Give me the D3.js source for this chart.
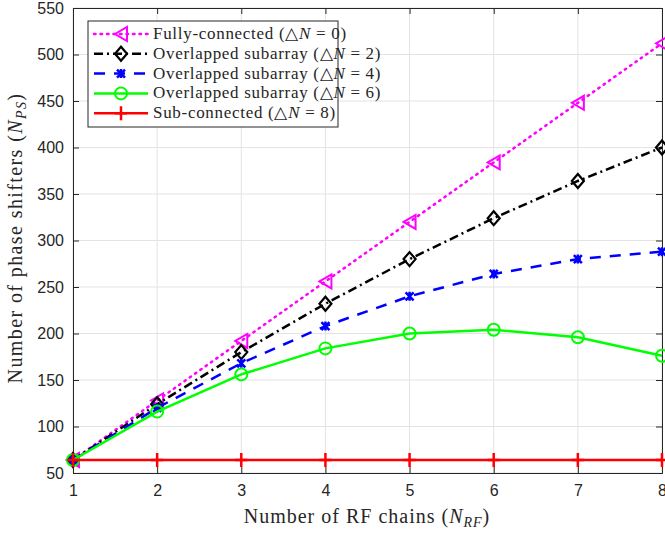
<!DOCTYPE html>
<html><head><meta charset="utf-8">
<script src="https://cdn.jsdelivr.net/npm/d3@7"></script>
<style>body{margin:0;background:#fff}svg{display:block}</style>
</head><body>
<svg id="c" width="665" height="533"></svg>
<script>
const xValues = [1,2,3,4,5,6,7,8];
const fullyConnected = [64,128,192,256,320,384,448,512];
const overlap2 = [64,124,180,232,280,324,364,400];
const overlap4 = [64,120,168,208,240,264,280,288];
const overlap6 = [64,116,156,184,200,204,196,176];
const subConnected = [64,64,64,64,64,64,64,64];
const yTicks = [50,100,150,200,250,300,350,400,450,500,550];
const seriesNames = ["Fully-connected", "Overlapped subarray", "Overlapped subarray", "Overlapped subarray", "Sub-connected"];
const deltaN = [0,2,4,6,8];

const svg = d3.select("#c");
const L=73, R=662, T=8, B=473;
const x = d3.scaleLinear().domain([1,8]).range([L,R]);
const y = d3.scaleLinear().domain([50,550]).range([B,T]);

// grid
const g = svg.append("g");
g.selectAll(".gx").data(xValues).enter().append("line")
 .attr("x1",d=>x(d)).attr("x2",d=>x(d)).attr("y1",T).attr("y2",B)
 .attr("stroke","#e3e3e3").attr("stroke-width",1);
g.selectAll(".gy").data(yTicks).enter().append("line")
 .attr("y1",d=>y(d)).attr("y2",d=>y(d)).attr("x1",L).attr("x2",R)
 .attr("stroke","#e3e3e3").attr("stroke-width",1);

// axes
const ax = svg.append("g").attr("transform",`translate(0,${B})`)
 .call(d3.axisBottom(x).tickValues(xValues).tickSize(-6).tickPadding(12).tickFormat(d3.format("d")));
const ay = svg.append("g").attr("transform",`translate(${L},0)`)
 .call(d3.axisLeft(y).tickValues(yTicks).tickSize(-6).tickPadding(9));
const axT = svg.append("g").attr("transform",`translate(0,${T})`)
 .call(d3.axisTop(x).tickValues(xValues).tickSize(-6).tickFormat(""));
const ayR = svg.append("g").attr("transform",`translate(${R},0)`)
 .call(d3.axisRight(y).tickValues(yTicks).tickSize(-6).tickFormat(""));
[ax,ay,axT,ayR].forEach(a=>{
  a.selectAll("path").attr("stroke","#262626").attr("stroke-width",1);
  a.selectAll("line").attr("stroke","#262626").attr("stroke-width",1);
  a.selectAll("text").attr("fill","#262626").style("font-family","'Liberation Sans', Arial, sans-serif").style("font-size","16px");
});

const series = [
 {data: fullyConnected, color:"#ff00ff", dash:"1.5,5", marker:"tri", cap:"round"},
 {data: overlap2, color:"#000000", dash:"9,4,2,4", marker:"dia"},
 {data: overlap4, color:"#0000ff", dash:"11,9", marker:"x"},
 {data: overlap6, color:"#00ff00", dash:null, marker:"circ"},
 {data: subConnected, color:"#ff0000", dash:null, marker:"plus"}
];

function drawMarker(sel, type, color){
  if(type==="tri"){
    sel.append("path").attr("d","M-6,0 L6,-7 L6,7 Z").attr("fill","none").attr("stroke",color).attr("stroke-width",2);
  } else if(type==="dia"){
    sel.append("path").attr("d","M0,-7 L6,0 L0,7 L-6,0 Z").attr("fill","none").attr("stroke",color).attr("stroke-width",2.2);
  } else if(type==="x"){
    sel.append("path").attr("d","M-4,-4 L4,4 M-4,4 L4,-4 M0,-4.5 L0,4.5").attr("fill","none").attr("stroke",color).attr("stroke-width",2.5);
  } else if(type==="circ"){
    sel.append("circle").attr("r",6).attr("fill","none").attr("stroke",color).attr("stroke-width",2);
  } else if(type==="plus"){
    sel.append("path").attr("d","M-6,0 L6,0 M0,-7 L0,7").attr("fill","none").attr("stroke",color).attr("stroke-width",2.5);
  }
}

const line = d3.line().x((d,i)=>x(xValues[i])).y(d=>y(d));
series.forEach(s=>{
  svg.append("path").datum(s.data).attr("d",line).attr("fill","none")
   .attr("stroke",s.color).attr("stroke-width",2.5)
   .attr("stroke-dasharray",s.dash).attr("stroke-linecap", s.cap||"butt");
  s.data.forEach((v,i)=>{
    const m = svg.append("g").attr("transform",`translate(${x(xValues[i])},${y(v)})`);
    drawMarker(m, s.marker, s.color);
  });
});

// labels
const serif = "'Liberation Serif','Times New Roman',serif";
const xl = svg.append("text").attr("x",367).attr("y",523).attr("text-anchor","middle")
 .style("font-family",serif).style("font-size","20px").style("letter-spacing","1px").attr("fill","#262626");
xl.append("tspan").text("Number of RF chains (");
xl.append("tspan").text("N").style("font-style","italic");
xl.append("tspan").text("RF").style("font-style","italic").style("font-size","14px").attr("dy",4);
xl.append("tspan").text(")").attr("dy",-4);

const yl = svg.append("text").attr("transform",`translate(22,238) rotate(-90)`).attr("text-anchor","middle")
 .style("font-family",serif).style("font-size","20px").style("letter-spacing","1.4px").attr("fill","#262626");
yl.append("tspan").text("Number of phase shifters (");
yl.append("tspan").text("N").style("font-style","italic");
yl.append("tspan").text("PS").style("font-style","italic").style("font-size","14px").attr("dy",4);
yl.append("tspan").text(")").attr("dy",-4);

// legend
const lg = svg.append("g");
lg.append("rect").attr("x",88).attr("y",21).attr("width",250).attr("height",106)
 .attr("fill","#fff").attr("stroke","#262626").attr("stroke-width",1);
series.forEach((s,i)=>{
  const cy = 34 + i*19.8;
  lg.append("line").attr("x1",94).attr("x2",148).attr("y1",cy).attr("y2",cy)
   .attr("stroke",s.color).attr("stroke-width",2.5).attr("stroke-dasharray",s.dash).attr("stroke-linecap", s.cap||"butt");
  const m = lg.append("g").attr("transform",`translate(121,${cy})`);
  drawMarker(m, s.marker, s.color);
  const t = lg.append("text").attr("x",153).attr("y",cy+5)
   .style("font-family",serif).style("font-size","17px").style("letter-spacing","0.7px").attr("fill","#262626");
  t.append("tspan").text(seriesNames[i]+" (\u25B3");
  t.append("tspan").text("N").style("font-style","italic");
  t.append("tspan").text(" = "+deltaN[i]+")");
});
</script>
</body></html>
